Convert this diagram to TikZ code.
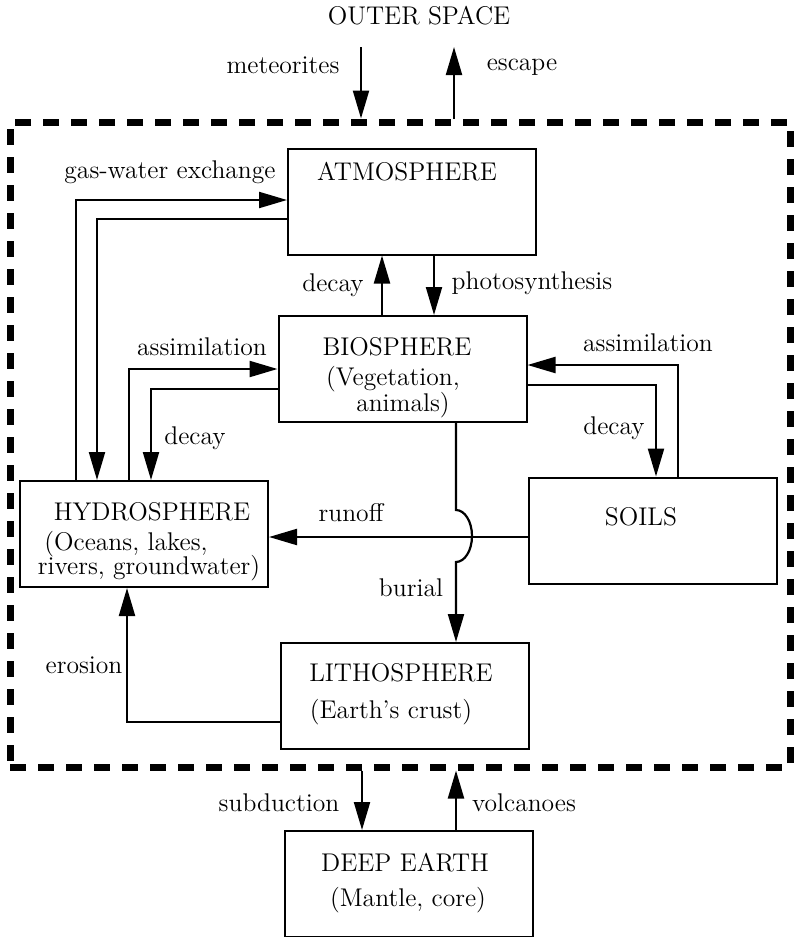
\documentclass[tikz,border=0pt]{standalone}
\usetikzlibrary{arrows.meta}
\begin{document}
\begin{tikzpicture}[x=0.5pt,y=-0.5pt,
    every node/.style={font=\fontsize{12.8}{15}\selectfont},
    sphere/.style={draw,line width=1pt,minimum width=124pt,minimum height=53pt,inner sep=0pt},
    lbl/.style={inner sep=0pt},
    flow/.style={line width=1.1pt,-{Triangle[length=14pt,width=8pt]}}]
    \useasboundingbox (0,0) rectangle (794,937);

    \node[draw,line width=3.5pt,dash pattern=on 8pt off 6pt,minimum width=390pt,minimum height=322.5pt] (earth) at (400,444.5) {};

    \node[sphere] (atm) at (412,201.5) {};
    \node[sphere] (bio) at (402.5,369) {};
    \node[sphere] (hyd) at (144,534) {};
    \node[sphere] (soil) at (653,530.5) {};
    \node[sphere] (lith) at (405,696) {};
    \node[sphere] (deep) at (409,884) {};

    \node[lbl] (space) at (419,16) {OUTER SPACE};
    \node[lbl] (atmname) at (407,172) {ATMOSPHERE};
    \node[lbl] (bioname) at (397,347) {BIOSPHERE};
    \node[lbl] (biosub1) at (393,379) {(Vegetation,};
    \node[lbl] (biosub2) at (403,405) {animals)};
    \node[lbl] (hydname) at (152,512) {HYDROSPHERE};
    \node[lbl] (hydsub1) at (126,544) {(Oceans, lakes,};
    \node[lbl] (hydsub2) at (149,568) {rivers, groundwater)};
    \node[lbl] (soilname) at (641,517) {SOILS};
    \node[lbl] (lithname) at (401,673) {LITHOSPHERE};
    \node[lbl] (lithsub) at (391,712) {(Earth's crust)};
    \node[lbl] (deepname) at (405,863) {DEEP EARTH};
    \node[lbl] (deepsub) at (408,900) {(Mantle, core)};

    \node[lbl] (metlbl) at (283,65) {meteorites};
    \node[lbl] (esclbl) at (522,67) {escape};
    \node[lbl] (gwlbl) at (170,172) {gas-water exchange};
    \node[lbl] (dculbl) at (333,285) {decay};
    \node[lbl] (phslbl) at (532,283) {photosynthesis};
    \node[lbl] (asllbl) at (202,347) {assimilation};
    \node[lbl] (dcllbl) at (195,438) {decay};
    \node[lbl] (asrlbl) at (648,343) {assimilation};
    \node[lbl] (dcrlbl) at (614,428) {decay};
    \node[lbl] (rolbl) at (351,513) {runoff};
    \node[lbl] (burlbl) at (411,588) {burial};
    \node[lbl] (erolbl) at (84,665) {erosion};
    \node[lbl] (sublbl) at (279,803) {subduction};
    \node[lbl] (vollbl) at (524,803) {volcanoes};

    \coordinate (met) at (361,47);
    \coordinate (esc) at (454,47);
    \draw[flow] (met) -- (earth.north -| met);
    \draw[flow] (earth.north -| esc) -- (esc);

    \coordinate (gwin) at (76,200);
    \coordinate (gwout) at (97,219);
    \draw[flow] (hyd.north -| gwin) |- (atm.west |- gwin);
    \draw[flow] (atm.west |- gwout) -| (hyd.north -| gwout);

    \coordinate (dcu) at (382,285);
    \coordinate (phs) at (434,285);
    \draw[flow] (bio.north -| dcu) -- (atm.south -| dcu);
    \draw[flow] (atm.south -| phs) -- (bio.north -| phs);

    \coordinate (asl) at (129,369);
    \coordinate (dcl) at (151,389);
    \draw[flow] (hyd.north -| asl) |- (bio.west |- asl);
    \draw[flow] (bio.west |- dcl) -| (hyd.north -| dcl);

    \coordinate (asr) at (678,365);
    \coordinate (dcr) at (656,385);
    \draw[flow] (soil.north -| asr) |- (bio.east |- asr);
    \draw[flow] (bio.east |- dcr) -| (soil.north -| dcr);

    \coordinate (ro) at (400,537);
    \draw[flow] (soil.west |- ro) -- (hyd.east |- ro);

    \coordinate (hoptop) at (456,510);
    \coordinate (hopbot) at (456,562);
    \draw[flow] (bio.south -| hoptop) -- (hoptop) .. controls (464.8,510) and (472,521.6) .. (472,536) .. controls (472,550.4) and (464.8,562) .. (hopbot) -- (lith.north -| hopbot);

    \coordinate (ero) at (127,722);
    \draw[flow] (lith.west |- ero) -| (hyd.south -| ero);

    \coordinate (sub) at (362,800);
    \coordinate (vol) at (456,800);
    \draw[flow] (earth.south -| sub) -- (deep.north -| sub);
    \draw[flow] (deep.north -| vol) -- (earth.south -| vol);
\end{tikzpicture}
\end{document}
